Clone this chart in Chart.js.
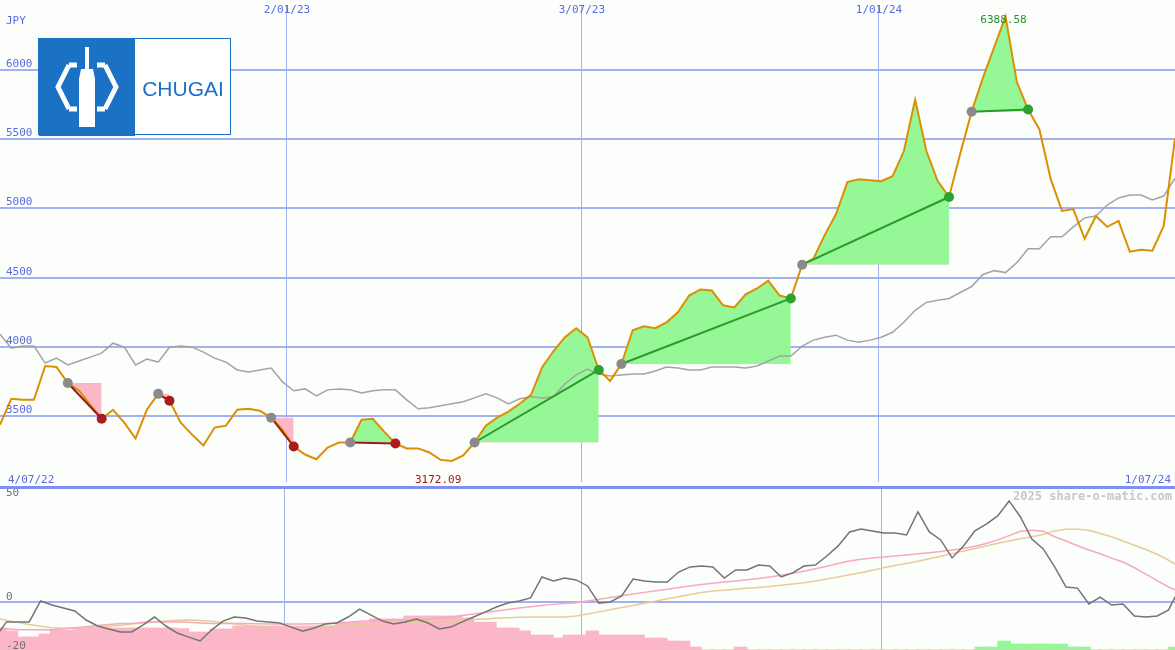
<!DOCTYPE html>
<html><head><meta charset="utf-8">
<script src="https://cdn.jsdelivr.net/npm/chart.js@4.4.1/dist/chart.umd.min.js"></script>
<style>
html,body{margin:0;padding:0;background:#fbfefb;overflow:hidden}
#wrap{position:relative;width:1175px;height:650px;background:#fbfefb;overflow:hidden}
canvas{position:absolute;left:-5px}
#top{top:0}
#bot{top:487px}
#sep{position:absolute;left:0;top:486px;width:1175px;height:3px;background:#7f8ff0}
#logo{position:absolute;left:38px;top:38px;width:193px;height:97px;border:1px solid #1b72c4;background:#fff;box-sizing:border-box}
</style></head><body>
<div id="wrap">
<canvas id="top" width="1185" height="487"></canvas>
<canvas id="bot" width="1185" height="163"></canvas>
<div id="sep"></div>
<div id="logo"><svg width="193" height="97" viewBox="0 0 193 97">
<rect x="0" y="0" width="96" height="97" fill="#1b72c4"/>
<path d="M30,26 L19,48 L30,70" stroke="#fff" stroke-width="5" fill="none"/>
<path d="M66,26 L77,48 L66,70" stroke="#fff" stroke-width="5" fill="none"/>
<path d="M30,26 L38,26 M30,70 L38,70 M66,26 L58,26 M66,70 L58,70" stroke="#fff" stroke-width="5"/>
<rect x="46" y="8" width="4" height="22" fill="#fff"/>
<path d="M42,30 L54,30 L56,40 L56,88 L40,88 L40,40 Z" fill="#fff"/>
<text x="144" y="57" text-anchor="middle" font-family="Liberation Sans, Arial" font-size="21" fill="#1b72c4">CHUGAI</text>
</svg></div>
</div>
<script>
// ---- data (weekly, 4 Jul 2022 .. 1 Jul 2024) ----
const price = [3435,3622,3615,3615,3860,3853,3737,3680,3579,3478,3543,3450,3335,3543,3658,3608,3450,3363,3284,3414,3428,3543,3550,3536,3486,3399,3277,3219,3185,3270,3306,3306,3471,3478,3385,3299,3263,3263,3234,3180,3172.09,3212,3306,3428,3486,3529,3586,3651,3853,3968,4068,4133,4068,3831,3752,3874,4119,4147,4133,4176,4248,4370,4414,4406,4299,4284,4378,4421,4478,4370,4349,4593,4637,4809,4960,5191,5212,5205,5198,5234,5414,5788,5414,5198,5083,5399,5701,5946,6169,6388.58,5917,5716,5572,5212,4982,4996,4781,4946,4867,4910,4687,4701,4694,4874,5507];
const movingAvg = [4090,3989,4004,4004,3881,3917,3867,3896,3924,3953,4025,3996,3867,3910,3888,3996,4004,3996,3960,3917,3888,3831,3817,3831,3845,3745,3680,3694,3644,3687,3694,3687,3665,3680,3687,3687,3615,3550,3558,3572,3586,3601,3629,3658,3629,3586,3622,3637,3629,3637,3730,3795,3838,3802,3788,3795,3802,3802,3824,3853,3845,3831,3831,3853,3853,3853,3845,3860,3896,3932,3932,4004,4047,4068,4083,4047,4032,4047,4068,4104,4176,4263,4320,4335,4349,4392,4435,4522,4550,4536,4608,4709,4709,4795,4795,4867,4932,4946,5025,5076,5097,5097,5061,5090,5219];
const oscMain = [-16.8,-9.3,-9.3,-9.3,0.5,-1.4,-2.8,-4.2,-8.4,-11.2,-12.6,-14.0,-14.0,-10.7,-7.0,-11.2,-14.5,-16.4,-18.2,-13.1,-8.9,-7.0,-7.5,-8.9,-9.3,-9.8,-11.7,-13.6,-12.1,-10.3,-9.8,-7.0,-3.3,-6.1,-8.9,-10.3,-9.3,-7.9,-9.8,-12.6,-11.7,-9.3,-7.0,-4.7,-2.3,-0.5,0.5,1.9,11.7,9.8,11.2,10.3,7.5,-0.5,0,2.8,10.7,9.8,9.3,9.3,14.0,16.4,16.8,16.4,11.2,15.0,15.0,17.3,16.8,11.7,13.6,16.8,17.3,21.5,26.2,32.7,34.1,33.2,32.2,32.2,31.3,42.1,32.7,29.0,20.6,26.2,33.2,36.4,40.2,47.2,39.7,29.4,24.8,16.4,7.0,6.5,-0.9,2.3,-1.4,-0.9,-6.5,-7.0,-6.5,-3.7,7.0];
const oscSignal = [-12,-12.5,-13,-13,-13,-13,-12.5,-12,-11.5,-11,-10.5,-10,-10,-9.5,-9.3,-9.3,-9.3,-9.5,-9.8,-10,-10,-10,-10,-10.2,-10.3,-10.3,-10.3,-10.3,-10.2,-10,-9.8,-9.5,-9,-8.7,-8.5,-8.4,-8.4,-8.4,-8,-7.5,-7,-6.3,-5.6,-4.9,-4.2,-3.5,-2.8,-2.2,-1.6,-1.1,-0.7,-0.3,0.5,1.3,2.1,2.9,3.7,4.5,5.3,6,6.8,7.5,8.2,8.8,9.3,9.8,10.4,11,11.7,12.5,13.4,14.4,15.5,16.7,18,19.2,20,20.6,21,21.5,22,22.5,23,23.6,24.3,25,26,27.3,29,31,33,33.5,33,30.5,28.5,26.3,24.3,22.5,20.5,18.7,16,13,10,7,4.7];
const oscSlow = [-7.5,-8.5,-9.5,-10.5,-11.3,-12,-12.2,-12.2,-12,-11.7,-11.3,-10.8,-10.3,-9.8,-9.3,-8.9,-8.5,-8.4,-8.6,-9,-9.6,-10.2,-10.8,-11.3,-11.7,-12,-12,-12,-11.8,-11.5,-11.2,-10.8,-10.5,-10.2,-10,-9.8,-9.7,-9.6,-9.4,-9.1,-8.8,-8.5,-8.2,-7.9,-7.6,-7.3,-7.1,-7,-7,-7,-7,-6.5,-5.6,-4.6,-3.6,-2.6,-1.6,-0.6,0.5,1.5,2.5,3.5,4.4,5.1,5.5,6,6.4,6.8,7.3,7.8,8.4,9,9.8,10.7,11.7,12.7,13.7,14.8,16,17,18,19,20.2,21.4,22.6,23.8,25,26.2,27.4,28.5,29.5,30.5,31.5,33.2,34,34,33.5,32,30.5,28.5,26.5,24.5,22.3,19.5,16.4];
const histNeg = [10.3,10.3,8.9,6.1,6.1,7.5,9.3,9.3,10.3,10.3,10.3,10.3,10.3,10.3,10.3,10.3,10.3,10,8.4,8.4,9.8,9.8,11.2,11.2,11.2,11.2,11.2,11.2,11.2,11.2,11.2,13,13,13,14.5,14.5,14.5,15.9,15.9,15.9,15.9,15.9,15,13,13,10.3,10.3,8.9,7,7,5.6,7,7,8.9,7,7,7,7,5.6,5.6,4.2,4.2,1.4,0,0,0,1.4,0,0,0,0,0,0,0,0,0,0,0,0,0,0,0,0,0,0,0,0,0,0,0,0,0,0,0,0,0,0,0,0,0,0,0,0,0,0];
const histPos = [0,0,0,0,0,0,0,0,0,0,0,0,0,0,0,0,0,0,0,0,0,0,0,0,0,0,0,0,0,0,0,0,0,0,0,0,0,0,0,0,0,0,0,0,0,0,0,0,0,0,0,0,0,0,0,0,0,0,0,0,0,0,0,0,0,0,0,0,0,0,0,0,0,0,0,0,0,0,0,0,0,0,0,0,0,0,1.4,1.4,4.2,2.8,2.8,2.8,2.8,2.8,1.4,1.4,0,0,0,0,0,0,0,1.4,1.4];
// trend segments: [start week, end week]
const trendStarts = [6,14,24,31,42,55,71,86];
const trendEnds   = [9,15,26,35,53,70,84,91];
// date grid (week offsets) and labels
const dateTickWeeks = [25.4,51.5,77.8];
const dateTickLabels = ['2/01/23','3/07/23','1/01/24'];
const startLabel = '4/07/22', endLabel = '1/07/24';
const priceTicks = [3500,4000,4500,5000,5500,6000];
const oscTicks = [50,0,-20];
const currency = 'JPY';
const minLabel = '3172.09', maxLabel = '6388.58';

const GRID='#a3b0f2', LBL='#5a6ae0', FONT='11px "DejaVu Sans Mono", monospace';
const pts = arr => arr.map((v,i)=>({x:i,y:v}));
const N = price.length-1;
const SH = 5; // canvas shift

// ---- top chart ----
const ds = [];
trendStarts.forEach((s,k)=>{
  const e = trendEnds[k]; const up = price[e] >= price[s];
  const col = up ? '#2a9a2a' : '#9a1a1a';
  ds.push({type:'scatter',data:[{x:s,y:price[s]}],pointRadius:5,pointBackgroundColor:'#8a8a8a',pointBorderWidth:0,order:0});
  ds.push({type:'scatter',data:[{x:e,y:price[e]}],pointRadius:5,pointBackgroundColor:up?'#2f9f2f':'#a81c1c',pointBorderWidth:0,order:0});
  ds.push({type:'line',data:[{x:s,y:price[s]},{x:e,y:price[e]}],borderColor:col,borderWidth:2,pointRadius:0,order:1});
  ds.push({type:'line',data:price.slice(s,e+1).map((v,j)=>({x:s+j,y:v})),borderWidth:0,borderColor:'rgba(0,0,0,0)',pointRadius:0,
    fill:{target:{value:price[s]},above:'#96f796',below:'#fbb6c8'},order:5});
});
ds.push({type:'line',data:pts(price),borderColor:'#dc8f00',borderWidth:2,pointRadius:0,order:2});
ds.push({type:'line',data:pts(movingAvg),borderColor:'#a4a4a4',borderWidth:1.5,pointRadius:0,order:3});

const xScale = {type:'linear',min:0,max:N,offset:false,afterBuildTicks:a=>{a.ticks=dateTickWeeks.map(v=>({value:v}));},
  ticks:{display:false,padding:0},grid:{color:GRID,lineWidth:1,drawTicks:false,offset:false},border:{display:false}};

const topLabels = {id:'tl',afterDraw(c){
  const x=c.scales.x,y=c.scales.y,ctx=c.ctx; ctx.save(); ctx.font=FONT; ctx.fillStyle=LBL; ctx.textBaseline='alphabetic';
  priceTicks.forEach(v=>{ctx.textAlign='left';ctx.fillText(String(v),6+SH,y.getPixelForValue(v)-3);});
  ctx.fillText(currency,6+SH,24);
  dateTickWeeks.forEach((w,i)=>{ctx.textAlign='center';ctx.fillText(dateTickLabels[i],x.getPixelForValue(w),13);});
  ctx.textAlign='left';ctx.fillText(startLabel,8+SH,483);
  ctx.textAlign='right';ctx.fillText(endLabel,1171+SH,483);
  const iMin=price.indexOf(Math.min(...price)), iMax=price.indexOf(Math.max(...price));
  ctx.fillStyle='#a01818';ctx.textAlign='left';ctx.fillText(minLabel,x.getPixelForValue(iMin)-37,483);
  ctx.fillStyle='#2a922a';ctx.textAlign='center';ctx.fillText(maxLabel,x.getPixelForValue(iMax)-2,y.getPixelForValue(Math.max(...price))+6);
  ctx.restore();
}};

new Chart(document.getElementById('top'),{data:{datasets:ds},
  options:{responsive:false,animation:false,devicePixelRatio:1,layout:{padding:0},
    plugins:{legend:{display:false},tooltip:{enabled:false}},
    scales:{x:xScale,
      y:{min:3020,max:6473,afterBuildTicks:a=>{a.ticks=priceTicks.map(v=>({value:v}));},ticks:{display:false},
        grid:{color:GRID,lineWidth:2,drawTicks:false},border:{display:false}}}},
  plugins:[topLabels]});

// ---- bottom chart ----
const OMIN=-22.4, OMAX=53.7;
const botLabels={id:'bl',afterDraw(c){
  const y=c.scales.y,ctx=c.ctx;ctx.save();ctx.font=FONT;
  ctx.fillStyle='#707070';ctx.textAlign='left';ctx.textBaseline='middle';
  oscTicks.forEach(v=>ctx.fillText(String(v),6+SH,y.getPixelForValue(v)-(v===0?5:(v<0?-1:2))));
  ctx.fillStyle='#c8c8c8';ctx.textAlign='right';ctx.font='bold 12px "DejaVu Sans Mono", monospace';
  ctx.fillText('2025 share-o-matic.com',1172+SH,10);
  ctx.restore();}};
const barW = Math.ceil(1175/N)+1;
new Chart(document.getElementById('bot'),{data:{datasets:[
  {type:'line',data:pts(oscMain),borderColor:'#747474',borderWidth:1.5,pointRadius:0,order:0},
  {type:'line',data:pts(oscSignal),borderColor:'#f8a8c0',borderWidth:1.5,pointRadius:0,order:1},
  {type:'line',data:pts(oscSlow),borderColor:'#e6cc98',borderWidth:1.5,pointRadius:0,order:2},
  {type:'bar',data:histNeg.map((h,i)=>({x:i,y:[OMIN,OMIN+h]})),backgroundColor:'#fbb6c8',barThickness:barW,order:5},
  {type:'bar',data:histPos.map((h,i)=>({x:i,y:[OMIN,OMIN+h]})),backgroundColor:'#96f796',barThickness:barW,order:5}
]},
  options:{responsive:false,animation:false,devicePixelRatio:1,layout:{padding:0},
    plugins:{legend:{display:false},tooltip:{enabled:false}},
    scales:{x:xScale,
      y:{min:OMIN,max:OMAX,afterBuildTicks:a=>{a.ticks=[{value:0}];},ticks:{display:false},
        grid:{color:GRID,lineWidth:2,drawTicks:false},border:{display:false}}}},
  plugins:[botLabels]});
</script></body></html>
